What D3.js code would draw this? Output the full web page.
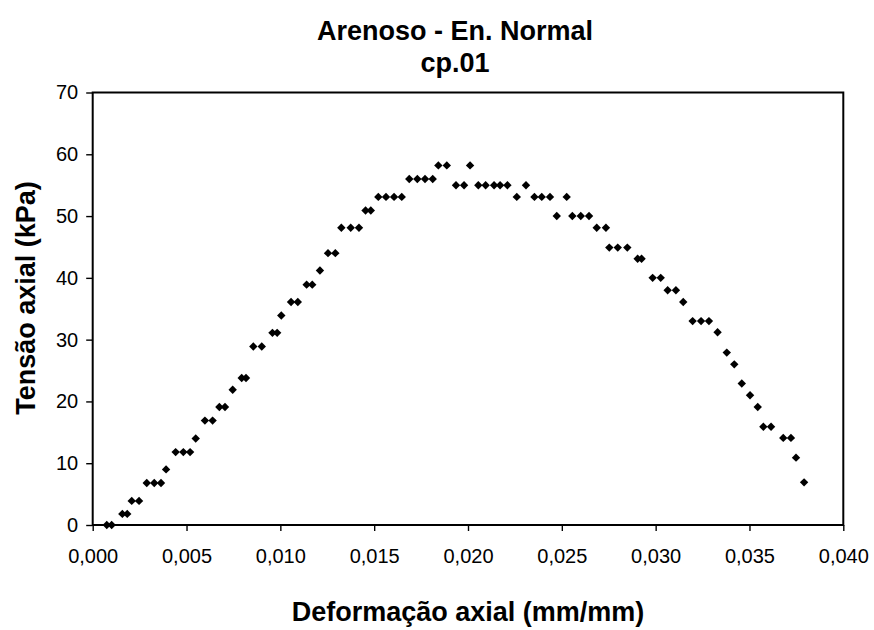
<!-- Arenoso - En. Normal, cp.01 : tensão x deformação -->
<html>
<head>
  <meta charset="utf-8">
  <title>Arenoso - En. Normal</title>
  <style>
    body{
      margin: 0;
      background: #fff;
    }
    text{
      font-family: "Liberation Sans", Arial, sans-serif;
    }
  </style>
  <script src="https://d3js.org/d3.v7.min.js"></script>
</head>
<body>
  <div id="container"></div>

  <script>
    //*******DATA*******
    // deformação axial (mm/mm)
    const deformacao = [
      0.00075, 0.00101, 0.00158, 0.00184, 0.00208, 0.00247, 0.00288, 0.00328, 0.00364, 0.00391,
      0.00442, 0.00483, 0.00519, 0.00549, 0.00598, 0.00639, 0.00675, 0.00705, 0.00746, 0.00794,
      0.00817, 0.00856, 0.00901, 0.00958, 0.00983, 0.01005, 0.01057, 0.01093, 0.0114, 0.0117,
      0.01211, 0.01254, 0.01293, 0.01325, 0.01375, 0.01419, 0.01454, 0.01482, 0.01522, 0.01563,
      0.01606, 0.01647, 0.01687, 0.0173, 0.01771, 0.01812, 0.01842, 0.01887, 0.01936, 0.01979,
      0.02011, 0.02055, 0.02094, 0.02139, 0.02171, 0.0221, 0.0226, 0.02309, 0.02354, 0.02393,
      0.02437, 0.02473, 0.02526, 0.02556, 0.02601, 0.02645, 0.02686, 0.02735, 0.02753, 0.02798,
      0.02849, 0.02904, 0.02925, 0.02984, 0.03027, 0.03064, 0.03108, 0.03147, 0.03197, 0.03242,
      0.03284, 0.0333, 0.03379, 0.03419, 0.03459, 0.03503, 0.03544, 0.03574, 0.03615, 0.0368,
      0.03721, 0.03748, 0.03791
    ];
    // tensão axial (kPa)
    const tensao = [
      0, 0, 1.8, 1.8, 3.9, 3.9, 6.8, 6.8, 6.8, 9.0,
      11.8, 11.8, 11.8, 14.0, 16.9, 16.9, 19.1, 19.1, 21.9, 23.8,
      23.8, 28.9, 28.9, 31.1, 31.1, 33.9, 36.1, 36.1, 38.9, 38.9,
      41.2, 44.0, 44.0, 48.1, 48.1, 48.1, 50.9, 50.9, 53.1, 53.1,
      53.1, 53.1, 56.0, 56.0, 56.0, 56.0, 58.2, 58.2, 55.0, 55.0,
      58.2, 55.0, 55.0, 55.0, 55.0, 55.0, 53.1, 55.0, 53.1, 53.1,
      53.1, 50.0, 53.1, 50.0, 50.0, 50.0, 48.1, 48.1, 44.9, 44.9,
      44.9, 43.1, 43.1, 40.0, 40.0, 38.0, 38.0, 36.1, 33.0, 33.0,
      33.0, 31.2, 27.9, 26.0, 22.9, 21.0, 19.1, 15.9, 15.9, 14.1,
      14.1, 10.9, 6.9
    ];
    const xTicks = [0, 0.005, 0.010, 0.015, 0.020, 0.025, 0.030, 0.035, 0.040];
    const yTicks = [0, 10, 20, 30, 40, 50, 60, 70];
    const tituloLinhas = ["Arenoso - En. Normal", "cp.01"];
    const tituloX = "Deformação axial (mm/mm)";
    const tituloY = "Tensão axial (kPa)";

    //*******CONSTANTS*******
    const width = 874,
          height = 630,
          margin = {
            top: 92.5,
            bottom: 105,
            left: 92.7,
            right: 30.7,
          };
    const plotW = width - margin.left - margin.right,
          plotH = height - margin.top - margin.bottom;

    //*******SVG*******
    var svg = d3.select("#container")
      .append("svg")
      .attr("width", width)
      .attr("height", height)
      .style("display", "block");

    svg.append("rect")
      .attr("width", width)
      .attr("height", height)
      .attr("fill", "#fff");

    var x = d3.scaleLinear().domain([0, 0.04]).range([0, plotW]);
    var y = d3.scaleLinear().domain([0, 70]).range([plotH, 0]);

    var g = svg.append("g")
      .attr("transform", "translate(" + margin.left + "," + margin.top + ")");

    // eixo x
    var fmtX = function(d){ return d3.format(".3f")(d).replace(".", ","); };
    var xAxis = g.append("g")
      .attr("transform", "translate(0," + plotH + ")")
      .call(d3.axisBottom(x).tickValues(xTicks).tickFormat(fmtX).tickSize(6).tickPadding(18));
    // eixo y
    var yAxis = g.append("g")
      .call(d3.axisLeft(y).tickValues(yTicks).tickSize(6.5).tickPadding(8));

    [xAxis, yAxis].forEach(function(a){
      a.select(".domain").remove();
      a.selectAll(".tick line").attr("stroke", "#000").attr("stroke-width", 1.4);
      a.selectAll(".tick text")
        .attr("fill", "#000")
        .attr("font-size", 20)
        .style("font-family", "'Liberation Sans', Arial, sans-serif");
    });

    // moldura da área do gráfico
    g.append("rect")
      .attr("width", plotW)
      .attr("height", plotH)
      .attr("fill", "none")
      .attr("stroke", "#000")
      .attr("stroke-width", 2);

    // pontos (losangos)
    var dados = deformacao.map(function(d, i){ return [d, tensao[i]]; });
    g.selectAll("path.pt")
      .data(dados)
      .enter()
      .append("path")
      .attr("class", "pt")
      .attr("d", "M0,-4.2L4.2,0L0,4.2L-4.2,0Z")
      .attr("transform", function(d){ return "translate(" + x(d[0]) + "," + y(d[1]) + ")"; })
      .attr("fill", "#000");

    // títulos
    svg.selectAll("text.titulo")
      .data(tituloLinhas)
      .enter()
      .append("text")
      .attr("class", "titulo")
      .attr("x", 455)
      .attr("y", function(d, i){ return 40 + i*32; })
      .attr("text-anchor", "middle")
      .attr("font-size", 27)
      .attr("font-weight", "bold")
      .text(function(d){ return d; });

    svg.append("text")
      .attr("x", margin.left + plotW/2)
      .attr("y", 621)
      .attr("text-anchor", "middle")
      .attr("font-size", 27)
      .attr("font-weight", "bold")
      .text(tituloX);

    svg.append("text")
      .attr("transform", "translate(35,298) rotate(-90)")
      .attr("text-anchor", "middle")
      .attr("font-size", 27)
      .attr("font-weight", "bold")
      .text(tituloY);
  </script>
</body>
</html>
